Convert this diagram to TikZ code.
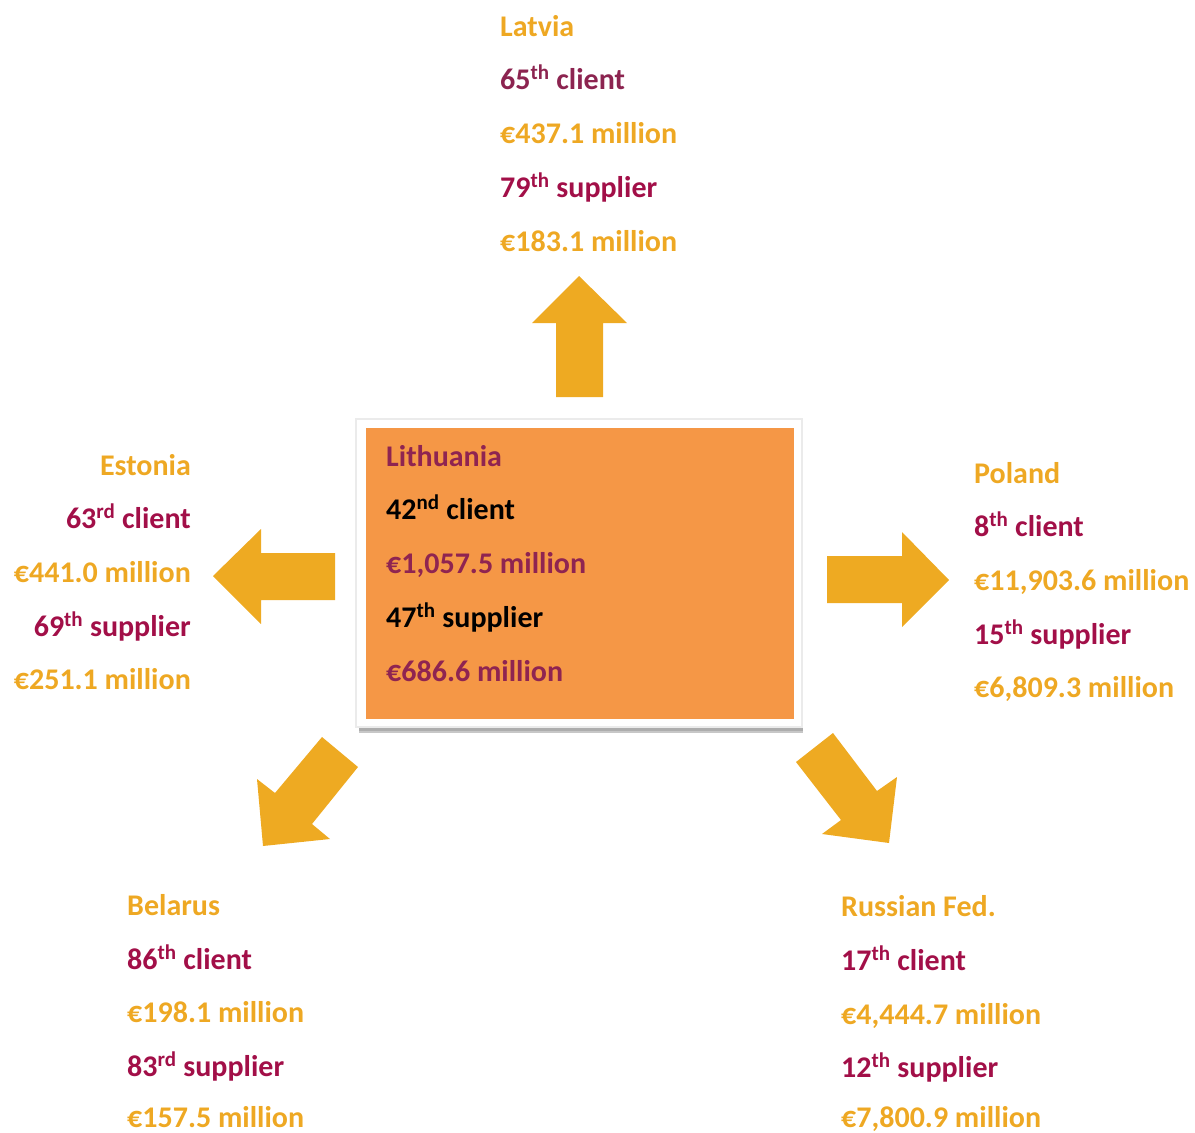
\documentclass[tikz,border=0pt]{standalone}
\usepackage{fontspec}
\setmainfont{Carlito}
\definecolor{gold}{HTML}{EEA823}
\definecolor{arrowgold}{HTML}{EEAA22}
\definecolor{crim}{HTML}{A20F48}
\definecolor{plum}{HTML}{8C2450}
\definecolor{boxorange}{HTML}{F59746}
\definecolor{lithtext}{HTML}{8F2451}
\tikzset{
  txt/.style={inner sep=0pt, font=\fontsize{30}{36}\selectfont\bfseries},
  lw/.style={txt, anchor=base west},
  le/.style={txt, anchor=base east},
  blockarrow/.style={fill=arrowgold, draw=none},
}
\newcommand{\sups}[1]{\textsuperscript{#1}}
\begin{document}
\begin{tikzpicture}[x=1pt,y=-1pt]
\useasboundingbox (0,0) rectangle (1195,1133);
% central box
\fill[black!22] (359,424) rectangle (803,733);
\fill[black!32] (359,727) rectangle (803,731);
\fill[white, draw=black!8, line width=1.5pt] (356,419) rectangle (802,727);
\node[fill=boxorange, minimum width=428pt, minimum height=291pt, inner sep=0pt, anchor=north west] (lith) at (366,428) {};
\node[lw, text=lithtext] (lt1) at (386,466) {Lithuania};
\node[lw, text=black] (lt2) at (386,519) {42\sups{nd} client};
\node[lw, text=lithtext] (lt3) at (386,573) {€1,057.5 million};
\node[lw, text=black] (lt4) at (386,627) {47\sups{th} supplier};
\node[lw, text=lithtext] (lt5) at (386,681) {€686.6 million};
% arrows
\fill[blockarrow] (579,276) -- (627,323) -- (603,323) -- (603,397) -- (556,397) -- (556,323) -- (532,323) -- cycle;
\fill[blockarrow] (213,576) -- (261,529) -- (261,553) -- (335,553) -- (335,600) -- (261,600) -- (261,624) -- cycle;
\fill[blockarrow] (949,580) -- (902,532) -- (902,556) -- (827,556) -- (827,603) -- (902,603) -- (902,627) -- cycle;
\fill[blockarrow] (322,737) -- (358,767) -- (312,824) -- (330,839) -- (263,846) -- (257,779) -- (275,793) -- cycle;
\fill[blockarrow] (833,733) -- (877,791) -- (897,777) -- (889,843) -- (822,834) -- (841,820) -- (796,762) -- cycle;
% Latvia
\node[lw, text=gold] (lv1) at (500,36) {Latvia};
\node[lw, text=plum] (lv2) at (500,89) {65\sups{th} client};
\node[lw, text=gold] (lv3) at (500,143) {€437.1 million};
\node[lw, text=crim] (lv4) at (500,197) {79\sups{th} supplier};
\node[lw, text=gold] (lv5) at (500,251) {€183.1 million};
% Estonia
\node[le, text=gold] (ee1) at (191,475) {Estonia};
\node[le, text=crim] (ee2) at (191,528) {63\sups{rd} client};
\node[le, text=gold] (ee3) at (191,582) {€441.0 million};
\node[le, text=crim] (ee4) at (191,636) {69\sups{th} supplier};
\node[le, text=gold] (ee5) at (191,689) {€251.1 million};
% Poland
\node[lw, text=gold] (pl1) at (974,483) {Poland};
\node[lw, text=crim] (pl2) at (974,536) {8\sups{th} client};
\node[lw, text=gold] (pl3) at (974,590) {€11,903.6 million};
\node[lw, text=crim] (pl4) at (974,644) {15\sups{th} supplier};
\node[lw, text=gold] (pl5) at (974,697) {€6,809.3 million};
% Belarus
\node[lw, text=gold] (by1) at (127,915) {Belarus};
\node[lw, text=crim] (by2) at (127,969) {86\sups{th} client};
\node[lw, text=gold] (by3) at (127,1022) {€198.1 million};
\node[lw, text=crim] (by4) at (127,1076) {83\sups{rd} supplier};
\node[lw, text=gold] (by5) at (127,1127) {€157.5 million};
% Russian Fed.
\node[lw, text=gold] (ru1) at (841,916) {Russian Fed.};
\node[lw, text=crim] (ru2) at (841,970) {17\sups{th} client};
\node[lw, text=gold] (ru3) at (841,1024) {€4,444.7 million};
\node[lw, text=crim] (ru4) at (841,1077) {12\sups{th} supplier};
\node[lw, text=gold] (ru5) at (841,1127) {€7,800.9 million};
\end{tikzpicture}
\end{document}
